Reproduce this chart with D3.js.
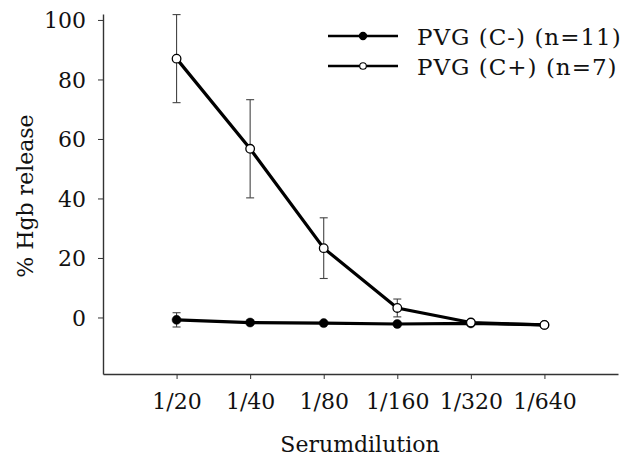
<!DOCTYPE html>
<html>
<head>
<meta charset="utf-8">
<script src="https://cdn.jsdelivr.net/npm/d3@7"></script>
<style>
  body { margin: 0; background: #fff; }
  text { font-family: "DejaVu Serif", serif; fill: #111; }
</style>
</head>
<body>
<script>
// data
const dilutions = ["1/20", "1/40", "1/80", "1/160", "1/320", "1/640"];
const cMinus = [-0.8, -1.7, -1.9, -2.2, -2.0, -2.5];
const cMinusErr = [2.4, 0, 0, 0, 0, 0];
const cPlus = [87.0, 56.7, 23.3, 3.2, -1.7, -2.5];
const cPlusErr = [14.8, 16.5, 10.2, 3.0, 0, 0];
const yTicks = [0, 20, 40, 60, 80, 100];

const width = 631, height = 459;

const svg = d3.select("body").append("svg")
    .attr("width", width)
    .attr("height", height);

// x: index positions, axis runs a bit past both ends
const x = d3.scaleLinear().domain([-1, 6]).range([103, 618]);
const y = d3.scaleLinear().domain([-19, 102]).range([374, 14]);

// axes
const yAxis = svg.append("g")
    .attr("transform", "translate(103,0)")
    .call(d3.axisLeft(y).tickValues(yTicks).tickSize(5).tickSizeOuter(0).tickPadding(12));
const xAxis = svg.append("g")
    .attr("transform", "translate(0,374)")
    .call(d3.axisBottom(x).tickValues(d3.range(dilutions.length))
        .tickFormat(i => dilutions[i]).tickSize(5).tickSizeOuter(0).tickPadding(14));

svg.selectAll(".domain").attr("stroke", "#333").attr("stroke-width", 1.4);
svg.selectAll(".tick line").attr("stroke", "#333").attr("stroke-width", 1);
svg.selectAll(".tick text")
    .style("font-family", "DejaVu Serif, serif")
    .style("font-size", "22px")
    .attr("fill", "#111");
yAxis.selectAll(".tick text").attr("dy", "0.36em");

// axis titles
svg.append("text")
    .attr("x", 360).attr("y", 452)
    .attr("text-anchor", "middle")
    .style("font-size", "22px")
    .text("Serumdilution");

svg.append("text")
    .attr("transform", "translate(33,196) rotate(-90)")
    .attr("text-anchor", "middle")
    .style("font-size", "22px")
    .text("% Hgb release");

const line = d3.line().x((d, i) => x(i)).y(d => y(d));

function drawSeries(vals, errs, filled) {
    const g = svg.append("g");
    // error bars
    vals.forEach((v, i) => {
        if (!errs[i]) return;
        const cx = x(i);
        g.append("line").attr("x1", cx).attr("x2", cx)
            .attr("y1", y(v + errs[i])).attr("y2", y(v - errs[i]))
            .attr("stroke", "#444").attr("stroke-width", 1.1);
        [v + errs[i], v - errs[i]].forEach(e => {
            g.append("line").attr("x1", cx - 4).attr("x2", cx + 4)
                .attr("y1", y(e)).attr("y2", y(e))
                .attr("stroke", "#444").attr("stroke-width", 1.1);
        });
    });
    g.append("path").datum(vals)
        .attr("d", line)
        .attr("fill", "none")
        .attr("stroke", "#000")
        .attr("stroke-width", 3.2);
    g.selectAll("circle").data(vals).enter().append("circle")
        .attr("cx", (d, i) => x(i))
        .attr("cy", d => y(d))
        .attr("r", filled ? 4.5 : 4.3)
        .attr("fill", filled ? "#000" : "#fff")
        .attr("stroke", "#000")
        .attr("stroke-width", filled ? 0.5 : 1.3);
}

drawSeries(cMinus, cMinusErr, true);
drawSeries(cPlus, cPlusErr, false);

// legend
const legend = [
    { label: "PVG (C-) (n=11)", filled: true },
    { label: "PVG (C+) (n=7)", filled: false }
];
legend.forEach((d, i) => {
    const ly = 36 + i * 30;
    svg.append("line").attr("x1", 328).attr("x2", 398)
        .attr("y1", ly).attr("y2", ly)
        .attr("stroke", "#000").attr("stroke-width", 2.6);
    svg.append("circle").attr("cx", 363).attr("cy", ly)
        .attr("r", d.filled ? 3.6 : 3.3)
        .attr("fill", d.filled ? "#000" : "#fff")
        .attr("stroke", "#000").attr("stroke-width", 1.1);
    svg.append("text")
        .attr("x", 417).attr("y", ly + 9)
        .style("font-size", "23px")
        .style("letter-spacing", "1px")
        .text(d.label);
});
</script>
</body>
</html>
